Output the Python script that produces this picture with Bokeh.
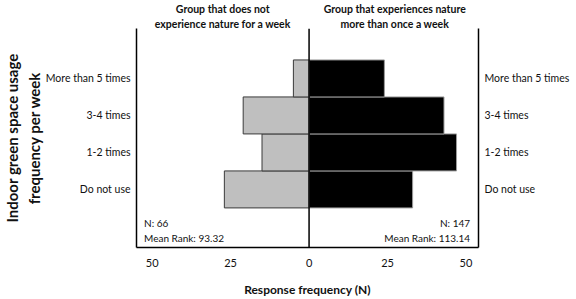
from bokeh.plotting import figure
from bokeh.models import Range1d, FixedTicker, LinearAxis, Label, Span, CustomJSTickFormatter
from bokeh.embed import file_html
from bokeh.resources import INLINE

categories = ["Do not use", "1-2 times", "3-4 times", "More than 5 times"]
cat_pos = [1, 2, 3, 4]
no_nature = [27, 15, 21, 5]
nature = [33, 47, 43, 24]
x_ticks = [-50, -25, 0, 25, 50]
group_pos = [-27.5, 27.3]
group_titles = ["Group that does not\nexperience nature for a week",
                "Group that experiences nature\nmore than once a week"]
y_title = "Indoor green space usage\nfrequency per week"
x_title = "Response frequency (N)"
left_stats = ["N: 66", "Mean Rank: 93.32"]
right_stats = ["N: 147", "Mean Rank: 113.14"]

FONT = "Lato"
TXT = "#111111"

p = figure(width=576, height=299, output_backend="svg", toolbar_location=None,
           x_range=Range1d(-55, 54), y_range=Range1d(-0.57, 5.35),
           min_border_left=133, min_border_right=98, min_border_top=28, min_border_bottom=49,
           x_axis_location=None, y_axis_location=None)
p.outline_line_color = None
p.grid.visible = False

left_vals = [-v for v in no_nature]
p.hbar(y=cat_pos, left=left_vals, right=0, height=1.0, fill_color="#bfbfbf",
       line_color="#3a3a3a", line_width=1)
p.hbar(y=cat_pos, left=0, right=nature, height=1.0, fill_color="#000000",
       line_color="#9a9a9a", line_width=1)

p.add_layout(Span(location=0, dimension="height", line_color="black", line_width=1.5))

def styled_axis(ax, size="10.5px"):
    ax.axis_line_color = "black"
    ax.axis_line_width = 1.5
    ax.major_tick_line_color = None
    ax.minor_tick_line_color = None
    ax.major_label_text_font = FONT
    ax.major_label_text_font_size = size
    ax.major_label_text_color = TXT
    return ax

overrides = {pos: c for pos, c in zip(cat_pos, categories)}
ly = styled_axis(LinearAxis(ticker=FixedTicker(ticks=cat_pos)))
ly.major_label_overrides = overrides
ly.major_label_standoff = 0
ly.axis_label = y_title
ly.axis_label_text_font = FONT
ly.axis_label_text_font_style = "bold"
ly.axis_label_text_font_size = "15px"
ly.axis_label_standoff = 0
ly.axis_label_text_color = TXT
p.add_layout(ly, "left")

ry = styled_axis(LinearAxis(ticker=FixedTicker(ticks=cat_pos)))
ry.major_label_overrides = overrides
ry.major_label_standoff = 0
p.add_layout(ry, "right")

ta = styled_axis(LinearAxis(ticker=FixedTicker(ticks=group_pos)), size="10.5px")
ta.axis_line_color = None
ta.major_label_overrides = {pos: t for pos, t in zip(group_pos, group_titles)}
ta.major_label_text_font_style = "bold"
ta.major_label_standoff = -7
p.add_layout(ta, "above")

bx = styled_axis(LinearAxis(ticker=FixedTicker(ticks=x_ticks)), size="11px")
bx.formatter = CustomJSTickFormatter(code="return Math.abs(tick).toString();")
bx.major_label_standoff = 5
bx.axis_label = x_title
bx.axis_label_text_font = FONT
bx.axis_label_text_font_style = "bold"
bx.axis_label_text_font_size = "12px"
bx.axis_label_standoff = 12
bx.axis_label_text_color = TXT
p.add_layout(bx, "below")

def add_label(x, y, text, align="left"):
    p.add_layout(Label(x=x, y=y, text=text, text_align=align, text_baseline="middle",
                       text_font=FONT, text_font_size="10px", text_color=TXT))

add_label(-52.6, 0.1, left_stats[0])
add_label(-52.6, -0.3, left_stats[1])
add_label(51.3, 0.1, right_stats[0], align="right")
add_label(51.3, -0.3, right_stats[1], align="right")

open("out.html", "w").write(file_html(p, INLINE))
